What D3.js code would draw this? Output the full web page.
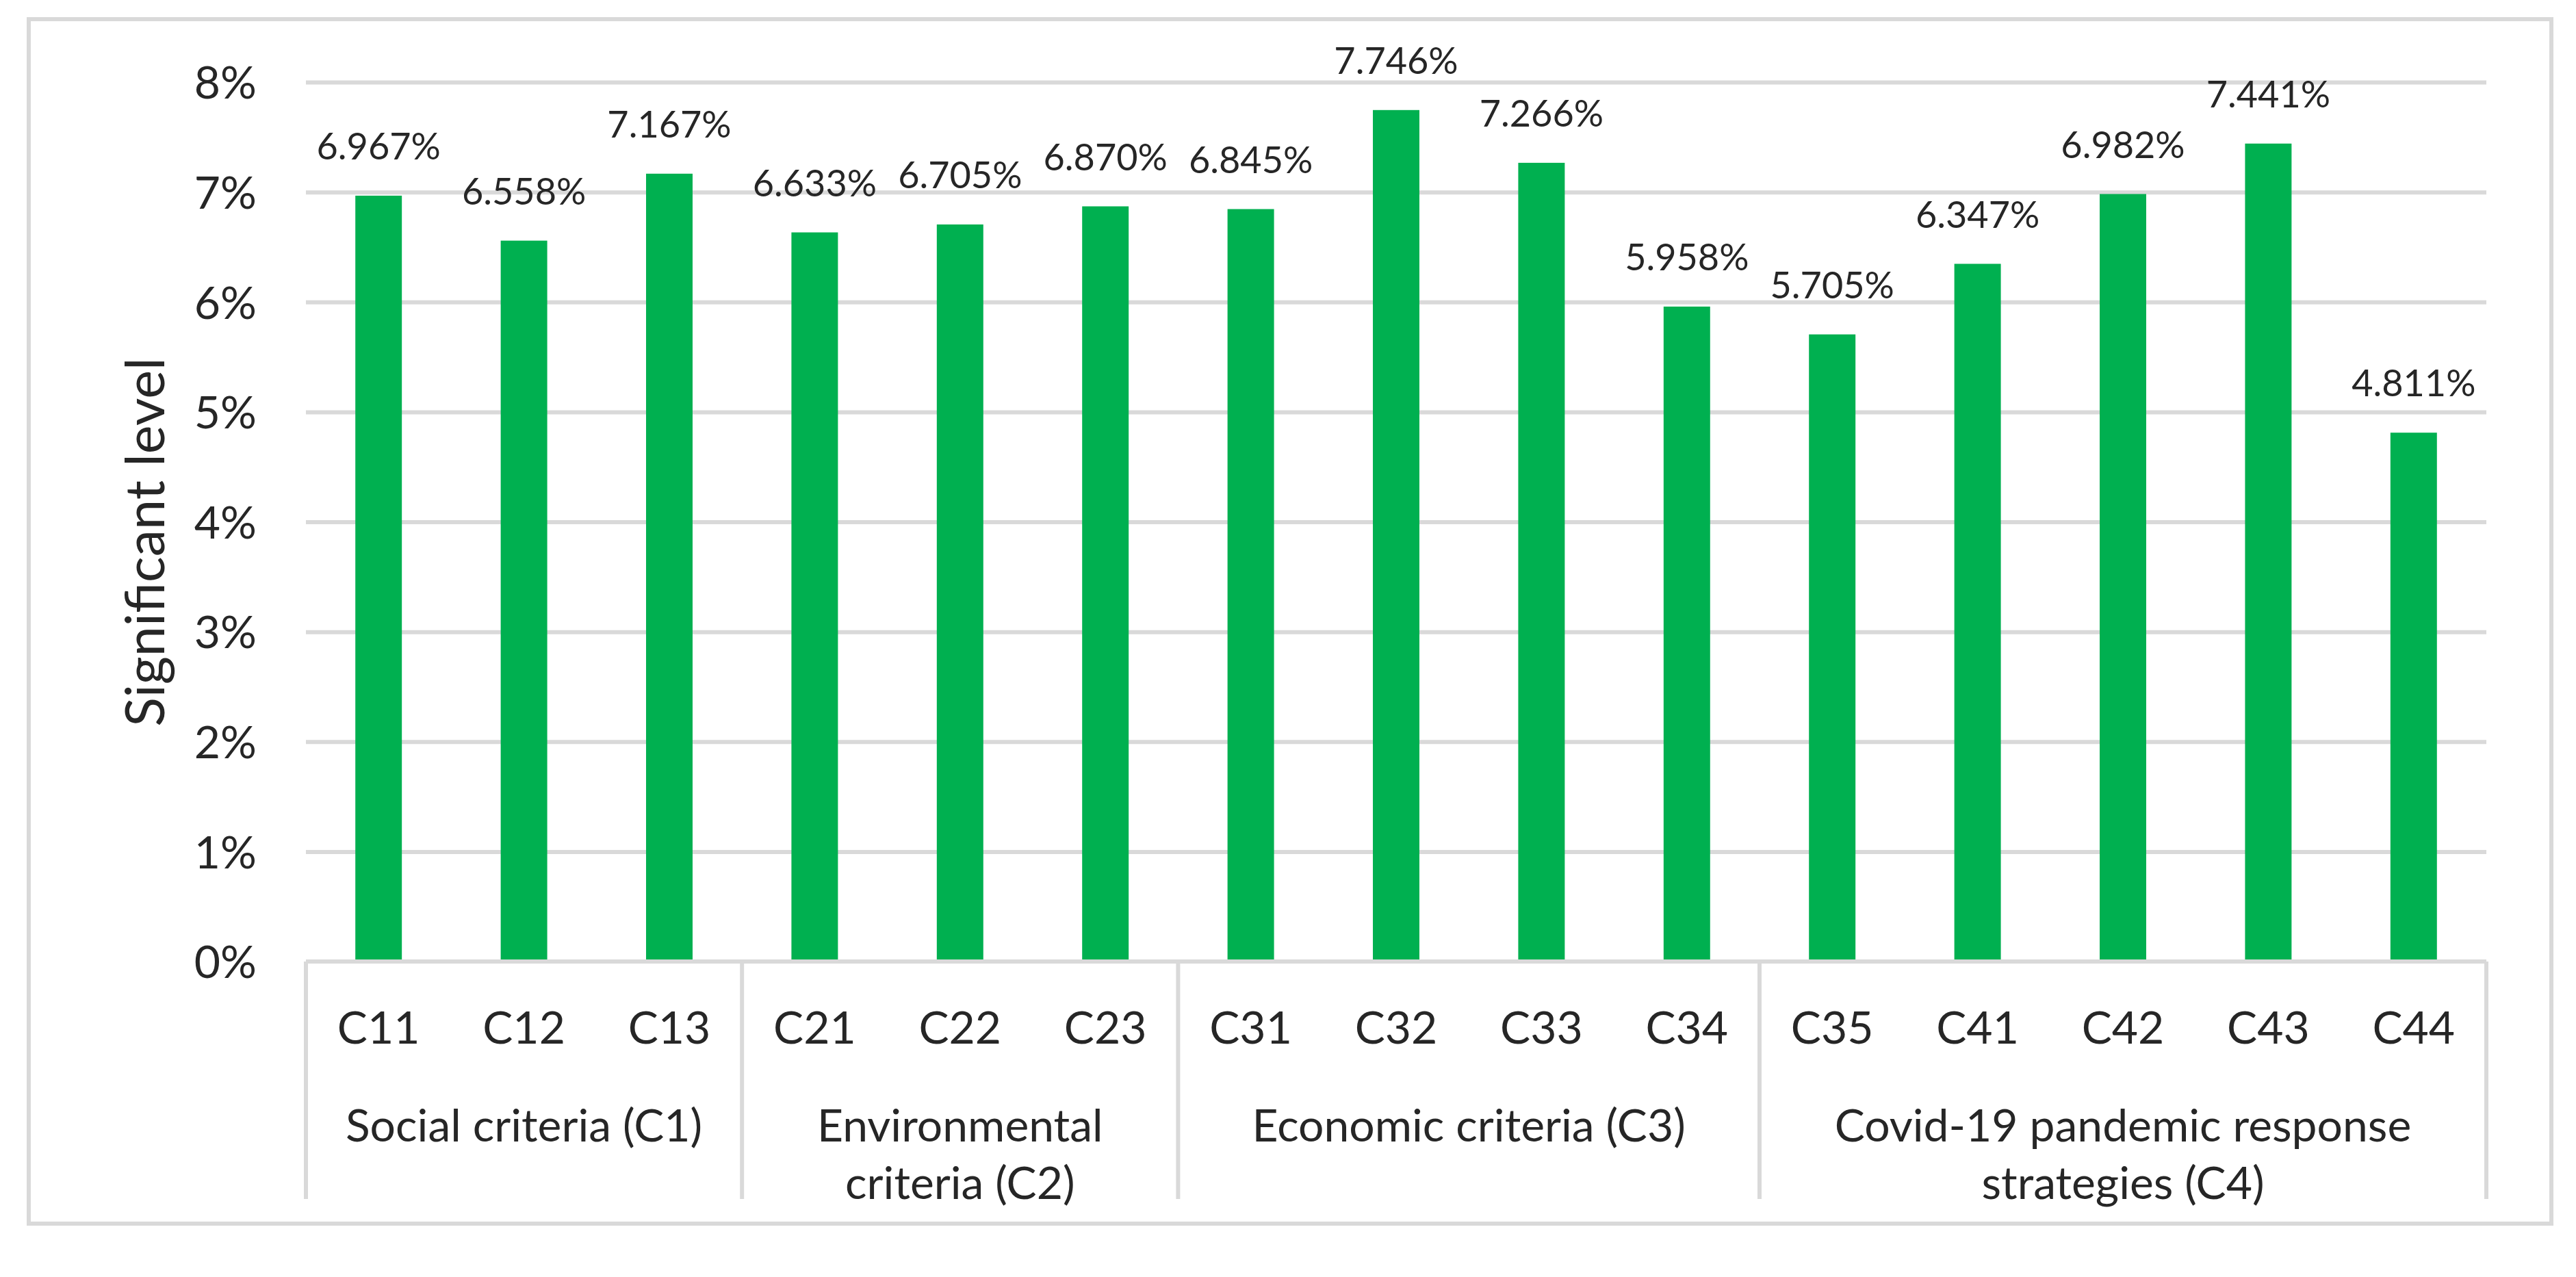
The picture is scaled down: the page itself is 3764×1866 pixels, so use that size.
<!DOCTYPE html>
<html>
<head>
<meta charset="utf-8">
<script src="https://cdn.jsdelivr.net/npm/d3@7"></script>
<style>
  html, body { margin: 0; padding: 0; background: #ffffff; }
  svg { display: block; }
  text { font-family: Lato, "Open Sans", sans-serif; fill: #262626; }
</style>
</head>
<body>
<svg id="chart" width="3764" height="1866"></svg>
<script>
// ---- data ----
const categories = ["C11","C12","C13","C21","C22","C23","C31","C32","C33","C34","C35","C41","C42","C43","C44"];
const values = [6.967, 6.558, 7.167, 6.633, 6.705, 6.870, 6.845, 7.746, 7.266, 5.958, 5.705, 6.347, 6.982, 7.441, 4.811];
const groupLabels = [
  ["Social criteria (C1)"],
  ["Environmental", "criteria (C2)"],
  ["Economic criteria (C3)"],
  ["Covid-19 pandemic response", "strategies (C4)"]
];
const groupCounts = [3, 3, 4, 5];
const yTicks = [0, 1, 2, 3, 4, 5, 6, 7, 8];
const yTitle = "Significant level";

// ---- layout ----
const W = 3764, H = 1866;
const plotL = 447, plotR = 3633, plotT = 120, plotB = 1405;
const sepBottom = 1752;
const gridColor = "#d9d9d9";
const barColor = "#00b050";

const svg = d3.select("#chart");

// outer frame
svg.append("rect")
  .attr("x", 42).attr("y", 28)
  .attr("width", 3728 - 42).attr("height", 1788 - 28)
  .attr("fill", "#ffffff")
  .attr("stroke", gridColor)
  .attr("stroke-width", 6);

const x = d3.scaleBand()
  .domain(categories)
  .range([plotL, plotR])
  .paddingInner(0.68)
  .paddingOuter(0.34);

const y = d3.scaleLinear()
  .domain([0, 8])
  .range([plotB, plotT]);

// gridlines
const grid = svg.append("g")
  .attr("transform", `translate(${plotL},0)`)
  .call(d3.axisLeft(y).tickValues(yTicks.filter(t => t > 0)).tickSize(-(plotR - plotL)).tickFormat(""));
grid.select(".domain").remove();
grid.selectAll(".tick line").attr("stroke", gridColor).attr("stroke-width", 6);

// y tick labels
const yAxis = svg.append("g")
  .attr("transform", `translate(${plotL},0)`)
  .call(d3.axisLeft(y).tickValues(yTicks).tickSize(0).tickPadding(72).tickFormat(d => d + "%"));
yAxis.select(".domain").remove();
yAxis.selectAll(".tick text")
  .attr("font-size", 66)
  .attr("font-family", "Lato, 'Open Sans', sans-serif")
  .attr("fill", "#262626")
  .attr("dy", "0.36em");

// y title
svg.append("text")
  .attr("transform", `translate(240, 792) rotate(-90)`)
  .attr("text-anchor", "middle")
  .attr("font-size", 79)
  .text(yTitle);

// bars
svg.append("g").selectAll("rect")
  .data(categories)
  .join("rect")
  .attr("x", d => x(d))
  .attr("width", x.bandwidth())
  .attr("y", (d, i) => y(values[i]))
  .attr("height", (d, i) => y(0) - y(values[i]))
  .attr("fill", barColor);

// data labels
const fmt = d3.format(".3f");
svg.append("g").selectAll("text")
  .data(categories)
  .join("text")
  .attr("x", d => x(d) + x.bandwidth() / 2)
  .attr("y", (d, i) => y(values[i]) - 53)
  .attr("text-anchor", "middle")
  .attr("font-size", 54)
  .text((d, i) => fmt(values[i]) + "%");

// category axis line
svg.append("line")
  .attr("x1", plotL).attr("x2", plotR)
  .attr("y1", plotB).attr("y2", plotB)
  .attr("stroke", gridColor).attr("stroke-width", 6);

// category labels
svg.append("g").selectAll("text")
  .data(categories)
  .join("text")
  .attr("x", d => x(d) + x.bandwidth() / 2)
  .attr("y", 1525)
  .attr("text-anchor", "middle")
  .attr("font-size", 66)
  .text(d => d);

// group separators and labels
const half = (x.step() - x.bandwidth()) / 2;
let start = 0;
const bounds = [];
groupCounts.forEach((n, gi) => {
  const first = categories[start];
  const last = categories[start + n - 1];
  const left = x(first) - half;
  const right = x(last) + x.bandwidth() + half;
  bounds.push(left);
  if (gi === groupCounts.length - 1) bounds.push(right);
  const cx = (left + right) / 2;
  const t = svg.append("text")
    .attr("text-anchor", "middle")
    .attr("font-size", 66);
  groupLabels[gi].forEach((line, li) => {
    t.append("tspan").attr("x", cx).attr("y", 1668 + li * 84).text(line);
  });
  start += n;
});

svg.append("g").selectAll("line")
  .data(bounds)
  .join("line")
  .attr("x1", d => d).attr("x2", d => d)
  .attr("y1", plotB).attr("y2", sepBottom)
  .attr("stroke", gridColor).attr("stroke-width", 6);
</script>
</body>
</html>
